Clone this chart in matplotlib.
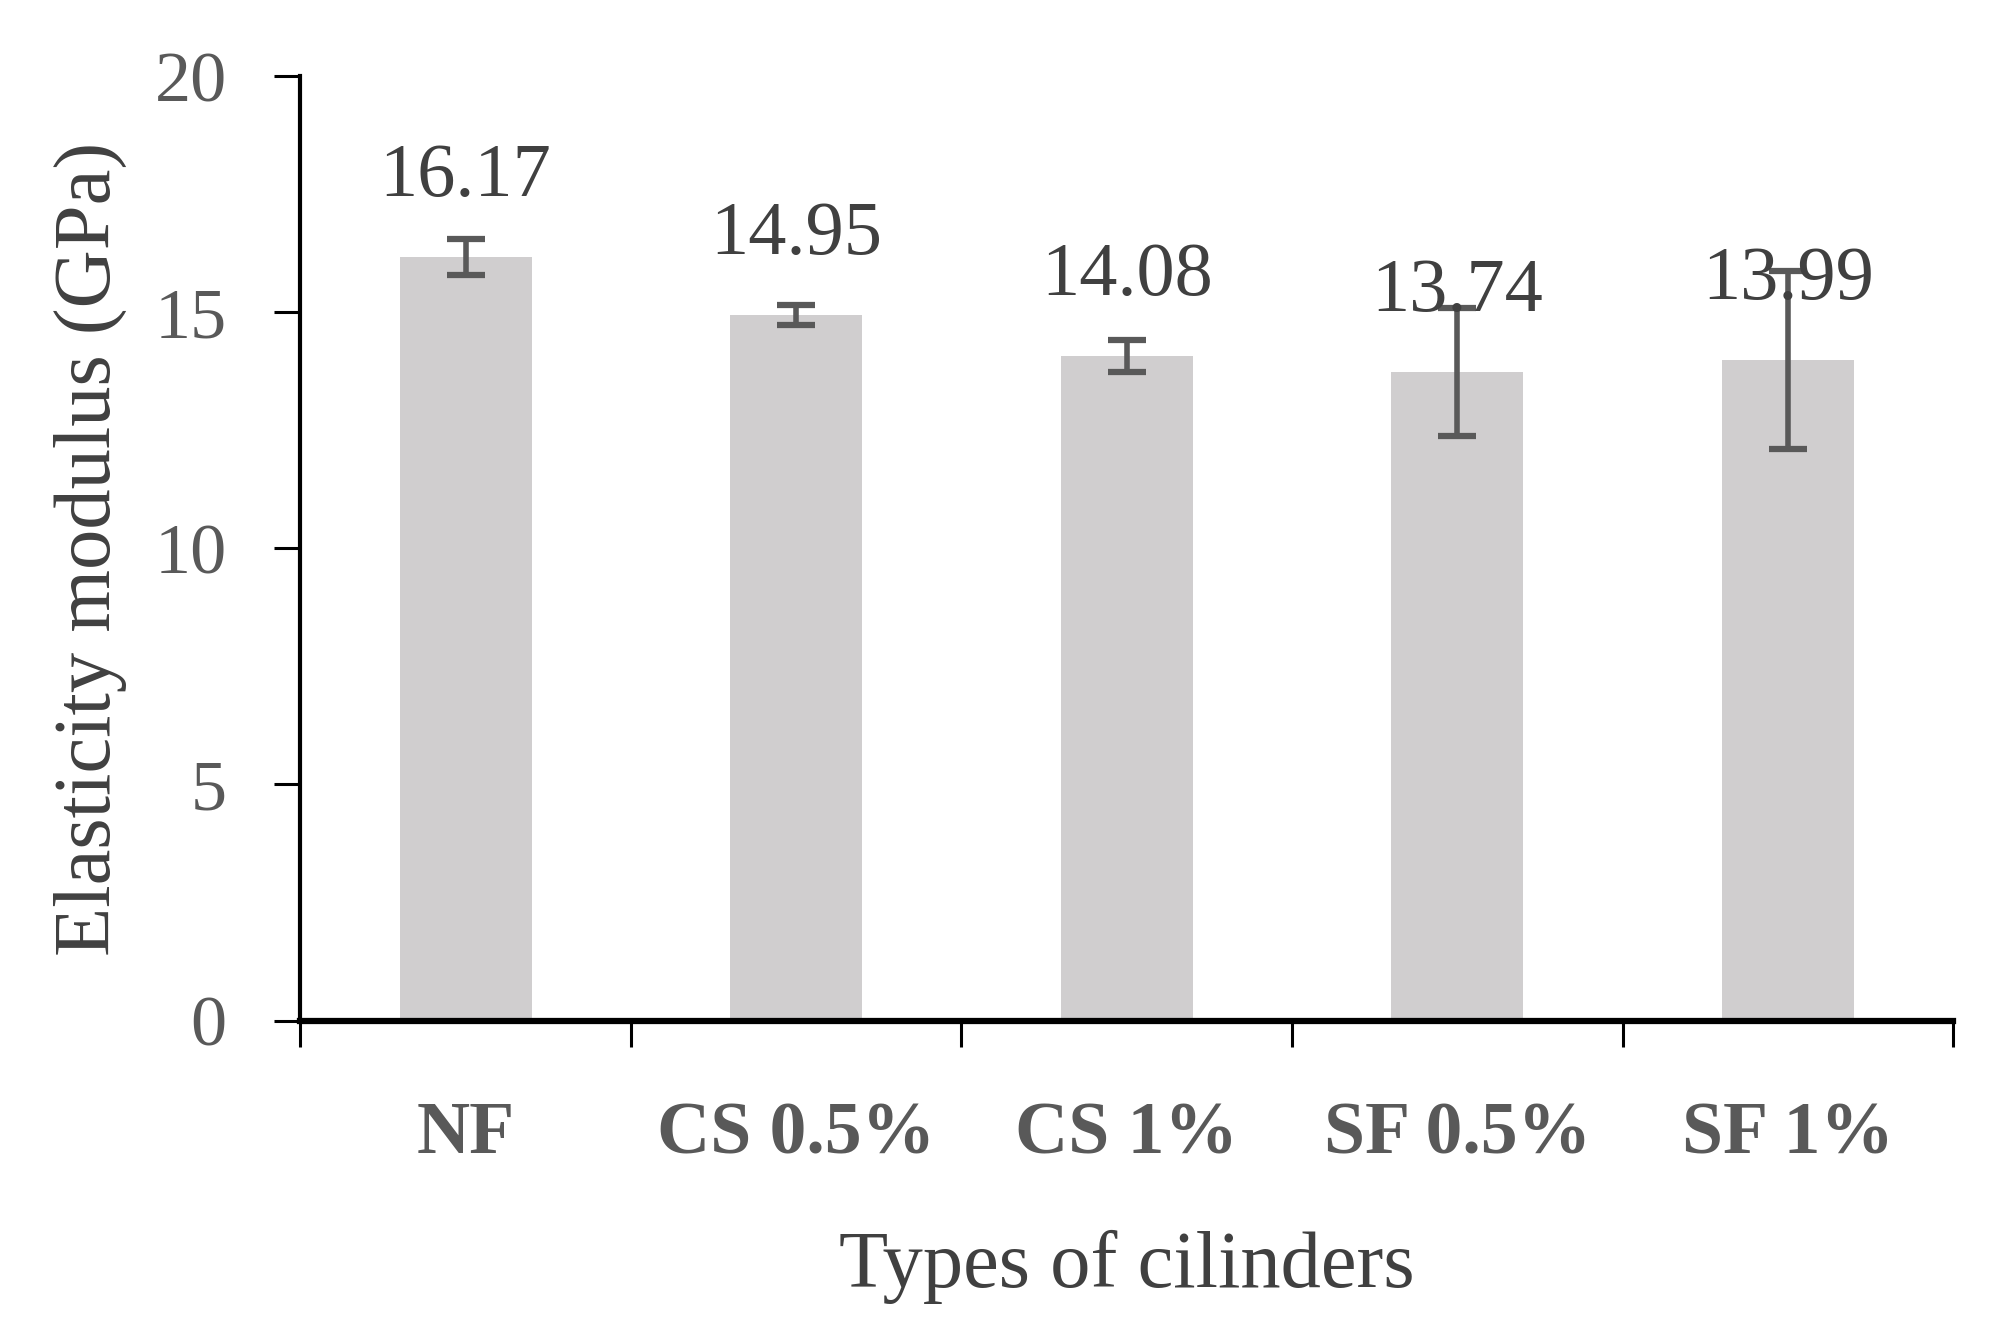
import matplotlib.pyplot as plt
import numpy as np

plt.rcParams['font.family'] = ['Liberation Serif', 'DejaVu Serif']

# data
categories = ['NF', 'CS 0.5%', 'CS 1%', 'SF 0.5%', 'SF 1%']
modulus = [16.17, 14.95, 14.08, 13.74, 13.99]
errors = [0.38, 0.21, 0.34, 1.35, 1.88]
yticks = [0, 5, 10, 15, 20]

fig = plt.figure(figsize=(19.89, 13.41), dpi=100)
ax = fig.add_axes([0.151, 0.239, 0.831, 0.704])

x = np.arange(len(categories))
ax.bar(x, modulus, width=0.4, color='#d0cecf', zorder=1)
ax.errorbar(x, modulus, yerr=errors, fmt='none', ecolor='#595959',
            elinewidth=4, capsize=14, capthick=4.5, zorder=2)

for xi, v in zip(x, modulus):
    ax.annotate(f'{v:.2f}', (xi, v), xytext=(0, 44), textcoords='offset points',
                ha='center', va='baseline', fontsize=55, color='#404040', zorder=3)

ax.set_xlim(-0.5, len(categories) - 0.5)
ax.set_ylim(0, 20)
ax.set_yticks(yticks)
ax.set_yticklabels([str(t) for t in yticks], fontsize=52, color='#595959')

# boundaries get tick marks, centres get the labels
ax.set_xticks(np.arange(-0.5, len(categories), 1.0))
ax.set_xticklabels([])
ax.set_xticks(x, minor=True)
ax.set_xticklabels(categories, minor=True, fontsize=53, fontweight='bold', color='#595959')
ax.tick_params(axis='x', which='major', direction='out', length=19, width=2.2, color='black')
ax.tick_params(axis='x', which='minor', length=0, pad=58)
ax.tick_params(axis='y', direction='out', length=19, width=2.2, color='black', pad=34)

ax.spines['top'].set_visible(False)
ax.spines['right'].set_visible(False)
ax.spines['left'].set_linewidth(3)
ax.spines['bottom'].set_linewidth(4.5)

ax.set_xlabel('Types of cilinders', fontsize=58, color='#404040', labelpad=44)
ax.set_ylabel('Elasticity modulus (GPa)', fontsize=58, color='#404040', labelpad=20)

fig.savefig('out.png', dpi=100)
